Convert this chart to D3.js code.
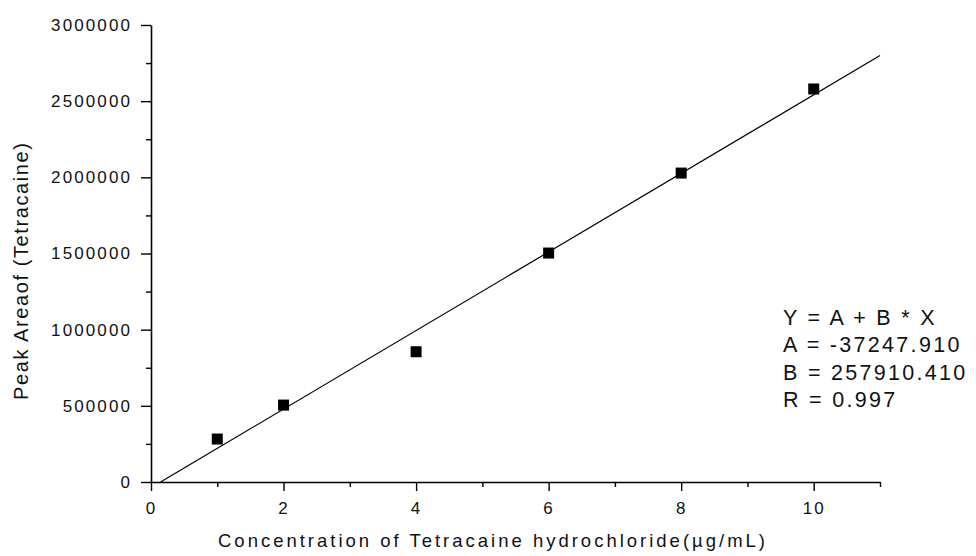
<!DOCTYPE html>
<html>
<head>
<meta charset="utf-8">
<script src="https://cdn.jsdelivr.net/npm/d3@7"></script>
<style>
  html, body { margin: 0; padding: 0; background: #fff; }
  svg { display: block; font-family: "Liberation Sans", Arial, sans-serif; }
</style>
</head>
<body>
<svg id="chart" width="976" height="556"></svg>
<script>
// ---- data ----
const concentrations = [1, 2, 4, 6, 8, 10];
const peakAreas = [282000, 505000, 855000, 1503000, 2028000, 2580000];
const fitA = -37247.910;
const fitB = 257910.410;
const fitR = 0.997;
const xTicks = [0, 2, 4, 6, 8, 10];
const yTicks = [0, 500000, 1000000, 1500000, 2000000, 2500000, 3000000];
const xMinorTicks = [1, 3, 5, 7, 9, 11];
const yMinorTicks = [250000, 750000, 1250000, 1750000, 2250000, 2750000];
const xTitle = "Concentration of Tetracaine hydrochloride(\u00b5g/mL)";
const yTitle = "Peak Areaof (Tetracaine)";
const fitLines = ["Y = A + B * X", "A = -37247.910", "B = 257910.410", "R = 0.997"];

(function () {
// ---- layout ----
const svg = d3.select("#chart");
const mLeft = 151, mRight = 880, mTop = 25, mBottom = 482;

const x = d3.scaleLinear().domain([0, 11]).range([mLeft, mRight]);
const y = d3.scaleLinear().domain([0, 3000000]).range([mBottom, mTop]);

// x axis
const gx = svg.append("g").attr("transform", `translate(0,${mBottom})`);
gx.call(d3.axisBottom(x).tickValues(xTicks).tickSize(9).tickSizeOuter(0).tickPadding(11).tickFormat(d3.format("d")));
gx.append("g").call(d3.axisBottom(x).tickValues(xMinorTicks).tickSize(5).tickSizeOuter(0).tickFormat(""))
  .select(".domain").remove();

// y axis
const gy = svg.append("g").attr("transform", `translate(${mLeft},0)`);
gy.call(d3.axisLeft(y).tickValues(yTicks).tickSize(10).tickSizeOuter(0).tickPadding(9).tickFormat(d3.format("d")));
gy.append("g").call(d3.axisLeft(y).tickValues(yMinorTicks).tickSize(5).tickSizeOuter(0).tickFormat(""))
  .select(".domain").remove();

svg.selectAll(".domain").attr("stroke", "#000").attr("stroke-width", 1.6);
svg.selectAll(".tick line").attr("stroke", "#000").attr("stroke-width", 1.4);
svg.selectAll(".tick text")
  .attr("fill", "#111")
  .style("font-size", "17px")
  .style("letter-spacing", "2.1px")
  .style("font-family", "'Liberation Sans', Arial, sans-serif");

// fit line
const x0 = -fitA / fitB;
const lineData = [x0, 11].map(c => ({ c: c, v: fitA + fitB * c }));
svg.append("path")
  .datum(lineData)
  .attr("fill", "none")
  .attr("stroke", "#000")
  .attr("stroke-width", 1.2)
  .attr("d", d3.line().x(d => x(d.c)).y(d => y(d.v)));

// points
const ms = 11;
svg.append("g").selectAll("rect")
  .data(concentrations.map((c, i) => ({ c: c, v: peakAreas[i] })))
  .join("rect")
  .attr("x", d => x(d.c) - ms / 2)
  .attr("y", d => y(d.v) - ms / 2)
  .attr("width", ms)
  .attr("height", ms)
  .attr("fill", "#000");

// axis titles
svg.append("text")
  .attr("x", 218).attr("y", 547)
  .attr("textLength", 547).attr("lengthAdjust", "spacing")
  .style("font-size", "18.5px")
  .attr("fill", "#111")
  .text(xTitle);

svg.append("text")
  .attr("transform", "translate(28,400) rotate(-90)")
  .attr("x", 0).attr("y", 0)
  .attr("textLength", 257).attr("lengthAdjust", "spacing")
  .style("font-size", "20px")
  .attr("fill", "#111")
  .text(yTitle);

// fit annotation
svg.append("g").selectAll("text")
  .data(fitLines)
  .join("text")
  .attr("x", 783)
  .attr("y", (d, i) => 325 + i * 27.3)
  .style("font-size", "21.5px")
  .style("letter-spacing", "2.3px")
  .attr("fill", "#111")
  .text(d => d);
})();
</script>
</body>
</html>
